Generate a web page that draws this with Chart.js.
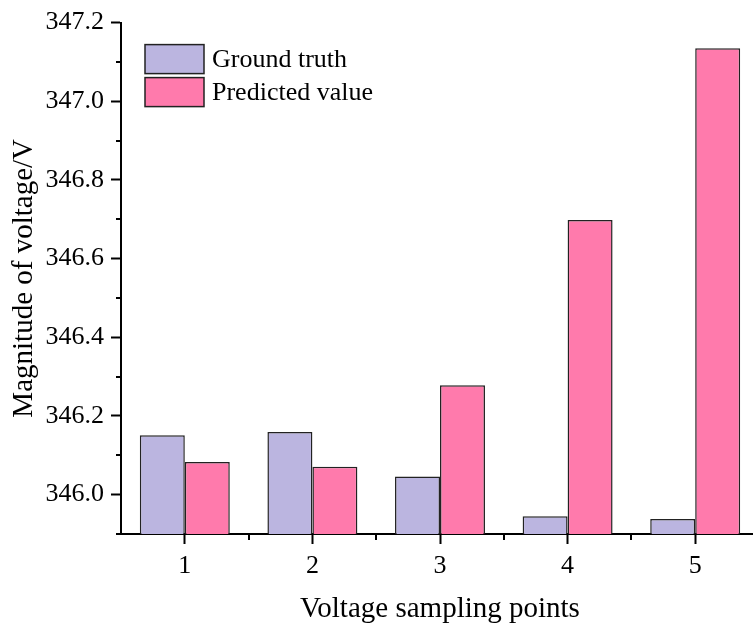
<!DOCTYPE html>
<html>
<head>
<meta charset="utf-8">
<script src="https://cdn.jsdelivr.net/npm/chart.js@4"></script>
<style>
  html, body { margin: 0; padding: 0; overflow: hidden; background: #fff; }
  #wrap { position: absolute; left: 0; top: 0; width: 760px; height: 623px; }
</style>
</head>
<body>
<div id="wrap"><canvas id="c"></canvas></div>
<script>
// Voltage magnitude at each sampling point
const samplingPoints = ['1', '2', '3', '4', '5'];
const groundTruth = [346.151, 346.159, 346.046, 345.945, 345.938];
const predicted = [346.083, 346.071, 346.278, 346.698, 347.135];

// Y axis: labelled ticks and the unlabelled minor ticks between them
const yTickValues = [346.0, 346.2, 346.4, 346.6, 346.8, 347.0, 347.2];
const yMinorValues = [345.9, 346.1, 346.3, 346.5, 346.7, 346.9, 347.1];

const FONT = "'Liberation Serif', 'Times New Roman', serif";
Chart.defaults.font.family = FONT;
Chart.defaults.color = '#000';

// Short outward ticks between the labelled ones on both axes
const minorTicks = {
  id: 'minorTicks',
  afterDraw(chart) {
    const { ctx, chartArea, scales: { x, y } } = chart;
    ctx.save();
    ctx.strokeStyle = '#000';
    ctx.lineWidth = 2;
    ctx.beginPath();
    yMinorValues.forEach(v => {
      const py = Math.round(y.getPixelForValue(v));
      ctx.moveTo(chartArea.left - 5, py);
      ctx.lineTo(chartArea.left, py);
    });
    for (let i = 0; i < samplingPoints.length - 1; i++) {
      const px = Math.round((x.getPixelForValue(i) + x.getPixelForValue(i + 1)) / 2);
      ctx.moveTo(px, chartArea.bottom);
      ctx.lineTo(px, chartArea.bottom + 6);
    }
    ctx.stroke();
    ctx.restore();
  }
};

// Legend drawn inside the plot area, top-left
const insideLegend = {
  id: 'insideLegend',
  afterDraw(chart) {
    const { ctx, chartArea } = chart;
    const x0 = chartArea.left + 24;
    let y0 = chartArea.top + 22;
    const boxW = 59, boxH = 29, gap = 4;
    ctx.save();
    ctx.font = '26px ' + FONT;
    ctx.textBaseline = 'middle';
    ctx.textAlign = 'left';
    chart.data.datasets.forEach(ds => {
      ctx.fillStyle = ds.backgroundColor;
      ctx.fillRect(x0, y0, boxW, boxH);
      ctx.strokeStyle = ds.borderColor;
      ctx.lineWidth = 1.5;
      ctx.strokeRect(x0, y0, boxW, boxH);
      ctx.fillStyle = '#000';
      ctx.fillText(ds.label, x0 + boxW + 8, y0 + boxH / 2 + 1);
      y0 += boxH + gap;
    });
    ctx.restore();
  }
};

new Chart(document.getElementById('c'), {
  type: 'bar',
  data: {
    labels: samplingPoints,
    datasets: [
      {
        label: 'Ground truth',
        data: groundTruth,
        backgroundColor: '#BBB5E0',
        borderColor: '#222222',
        borderWidth: 1.5
      },
      {
        label: 'Predicted value',
        data: predicted,
        backgroundColor: '#FF7AAC',
        borderColor: '#222222',
        borderWidth: 1.5
      }
    ]
  },
  options: {
    responsive: true,
    maintainAspectRatio: false,
    devicePixelRatio: 1,
    animation: false,
    layout: { padding: { left: 0, top: 18, right: 1, bottom: 0 } },
    datasets: { bar: { categoryPercentage: 0.705, barPercentage: 1.0 } },
    plugins: { legend: { display: false }, tooltip: { enabled: false } },
    scales: {
      x: {
        type: 'category',
        offset: true,
        grid: {
          display: true, offset: false, drawOnChartArea: false,
          drawTicks: true, tickLength: 10, tickWidth: 2, tickColor: '#000'
        },
        border: { display: true, color: '#000', width: 2 },
        ticks: { font: { size: 26 }, padding: 7, color: '#000' },
        title: {
          display: true, text: 'Voltage sampling points',
          font: { size: 29, lineHeight: 0.95 }, padding: { top: 0, bottom: 0 }, color: '#000'
        },
        afterFit(scale) { scale.height = 89; }
      },
      y: {
        type: 'linear',
        min: 345.9,
        max: 347.2,
        grid: {
          display: true, drawOnChartArea: false,
          drawTicks: true, tickLength: 10, tickWidth: 2, tickColor: '#000'
        },
        border: { display: true, color: '#000', width: 2 },
        ticks: {
          font: { size: 26 }, padding: 7, color: '#000',
          callback: v => Number(v).toFixed(1)
        },
        afterBuildTicks(scale) { scale.ticks = yTickValues.map(v => ({ value: v })); },
        title: {
          display: true, text: 'Magnitude of voltage/V',
          font: { size: 29, lineHeight: 1.2 }, padding: { top: 7, bottom: 0 }, color: '#000'
        },
        afterFit(scale) { scale.width = 121; }
      }
    }
  },
  plugins: [minorTicks, insideLegend]
});
</script>
</body>
</html>
